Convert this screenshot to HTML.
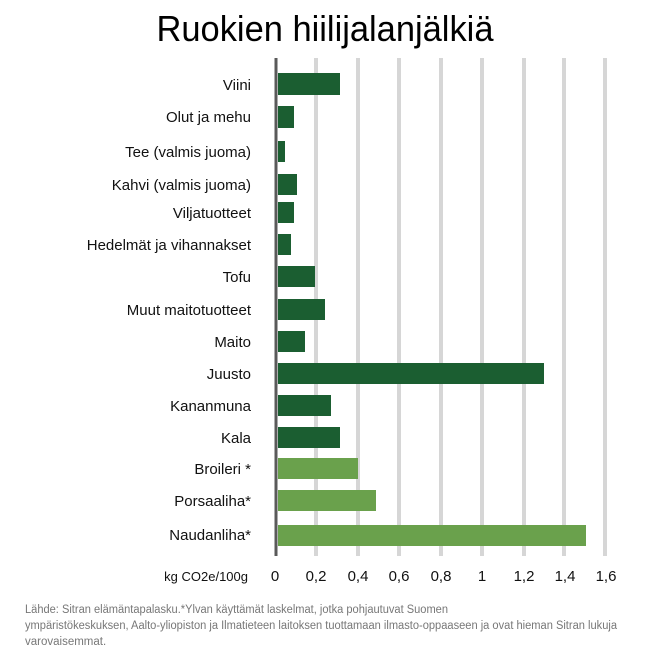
<!DOCTYPE html>
<html><head><meta charset="utf-8"><style>
html,body{margin:0;padding:0;background:#fff;}
svg{display:block;font-family:"Liberation Sans",sans-serif;}
</style></head><body>
<svg width="650" height="650" viewBox="0 0 650 650">
<text x="325" y="41" text-anchor="middle" font-size="36" fill="#000" textLength="337" lengthAdjust="spacingAndGlyphs">Ruokien hiilijalanjälkiä</text>
<g stroke="#d6d6d6" stroke-width="4">
<line x1="316" y1="58" x2="316" y2="556"/><line x1="358" y1="58" x2="358" y2="556"/>
<line x1="399" y1="58" x2="399" y2="556"/><line x1="441" y1="58" x2="441" y2="556"/>
<line x1="482" y1="58" x2="482" y2="556"/><line x1="524" y1="58" x2="524" y2="556"/>
<line x1="564" y1="58" x2="564" y2="556"/><line x1="605" y1="58" x2="605" y2="556"/>
</g>
<g fill="#1b5e31">
<rect x="278" y="73" width="62" height="22"/>
<rect x="278" y="106" width="16" height="22"/>
<rect x="278" y="141" width="7" height="21"/>
<rect x="278" y="174" width="19" height="21"/>
<rect x="278" y="202" width="16" height="21"/>
<rect x="278" y="234" width="13" height="21"/>
<rect x="278" y="266" width="37" height="21"/>
<rect x="278" y="299" width="47" height="21"/>
<rect x="278" y="331" width="27" height="21"/>
<rect x="278" y="363" width="266" height="21"/>
<rect x="278" y="395" width="53" height="21"/>
<rect x="278" y="427" width="62" height="21"/>
</g>
<g fill="#6aa14c">
<rect x="278" y="458" width="80" height="21"/>
<rect x="278" y="490" width="98" height="21"/>
<rect x="278" y="525" width="308" height="21"/>
</g>
<line x1="276" y1="58" x2="276" y2="556" stroke="#5a5a5a" stroke-width="3"/>
<g font-size="15" fill="#111" text-anchor="end">
<text x="251" y="90">Viini</text>
<text x="251" y="122">Olut ja mehu</text>
<text x="251" y="157">Tee (valmis juoma)</text>
<text x="251" y="190">Kahvi (valmis juoma)</text>
<text x="251" y="218">Viljatuotteet</text>
<text x="251" y="250">Hedelmät ja vihannakset</text>
<text x="251" y="282">Tofu</text>
<text x="251" y="315">Muut maitotuotteet</text>
<text x="251" y="347">Maito</text>
<text x="251" y="379">Juusto</text>
<text x="251" y="411">Kananmuna</text>
<text x="251" y="443">Kala</text>
<text x="251" y="474">Broileri *</text>
<text x="251" y="506">Porsaaliha*</text>
<text x="251" y="540">Naudanliha*</text>
</g>
<text x="248" y="581" font-size="13" fill="#111" text-anchor="end">kg CO2e/100g</text>
<g font-size="15" fill="#111" text-anchor="middle">
<text x="275" y="581">0</text><text x="316" y="581">0,2</text><text x="358" y="581">0,4</text>
<text x="399" y="581">0,6</text><text x="441" y="581">0,8</text><text x="482" y="581">1</text>
<text x="524" y="581">1,2</text><text x="565" y="581">1,4</text><text x="606" y="581">1,6</text>
</g>
<g font-size="11.5" fill="#777">
<text x="25" y="613" textLength="423" lengthAdjust="spacingAndGlyphs">Lähde: Sitran elämäntapalasku.*Ylvan käyttämät laskelmat, jotka pohjautuvat Suomen</text>
<text x="25" y="629" textLength="592" lengthAdjust="spacingAndGlyphs">ympäristökeskuksen, Aalto-yliopiston ja Ilmatieteen laitoksen tuottamaan ilmasto-oppaaseen ja ovat hieman Sitran lukuja</text>
<text x="25" y="645">varovaisemmat.</text>
</g>
</svg>
</body></html>
